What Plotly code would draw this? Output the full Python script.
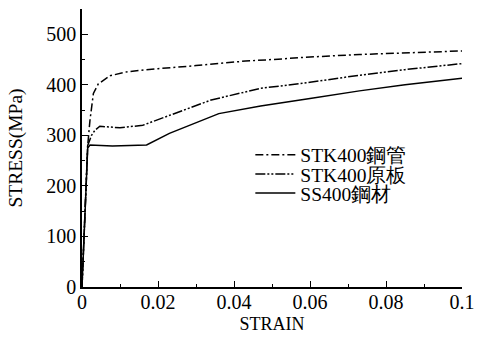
import plotly.graph_objects as go

names = ["STK400鋼管", "STK400原板", "SS400鋼材"]
strain_tube = [0, 0.0008, 0.0015, 0.0021, 0.003, 0.0043, 0.0074, 0.012, 0.02, 0.03, 0.043, 0.05, 0.06, 0.073, 0.08, 0.09, 0.1]
stress_tube = [0, 150, 280, 330, 383, 402, 418, 426, 432, 438, 447, 450, 455, 460, 462, 465, 467]
strain_plate = [0, 0.0008, 0.0015, 0.0025, 0.0034, 0.0047, 0.01, 0.016, 0.023, 0.034, 0.047, 0.06, 0.073, 0.085, 0.1]
stress_plate = [0, 150, 280, 300, 310, 318, 315, 320, 340, 370, 393, 405, 419, 430, 442]
strain_ss = [0, 0.0008, 0.0015, 0.0021, 0.008, 0.017, 0.023, 0.036, 0.047, 0.06, 0.073, 0.085, 0.1]
stress_ss = [0, 150, 275, 281, 279, 281, 304, 343, 358, 373, 388, 400, 413]

FONT = "Liberation Serif"

fig = go.Figure()
fig.add_trace(go.Scatter(x=strain_tube, y=stress_tube, mode="lines", name=names[0], legend="legend",
                         line=dict(color="black", width=1.5, dash="8px,3px,2px,3px")))
fig.add_trace(go.Scatter(x=strain_plate, y=stress_plate, mode="lines", name=names[1], legend="legend2",
                         line=dict(color="black", width=1.5, dash="10px,2px,2px,2px,2px,2px")))
fig.add_trace(go.Scatter(x=strain_ss, y=stress_ss, mode="lines", name=names[2], legend="legend3",
                         line=dict(color="black", width=1.5)))

def leg(yv):
    return dict(x=0.443, y=yv, xanchor="left", yanchor="middle",
                bgcolor="rgba(0,0,0,0)", font=dict(size=19.5, family=FONT),
                itemwidth=40)

fig.update_layout(
    width=477, height=338,
    margin=dict(l=82, r=15, t=9, b=51),
    paper_bgcolor="white", plot_bgcolor="white",
    font=dict(family=FONT, color="black", size=16),
    legend=leg(0.475), legend2=leg(0.405), legend3=leg(0.337),
    showlegend=True,
)
fig.update_xaxes(
    range=[0, 0.1], tickvals=[0, 0.02, 0.04, 0.06, 0.08, 0.1],
    ticktext=["0", "0.02", "0.04", "0.06", "0.08", "0.1"],
    ticks="inside", ticklen=6, tickcolor="black", showline=True, linecolor="black",
    linewidth=1.5, showgrid=False, zeroline=False, automargin=False,
    ticklabelstandoff=-4,
    minor=dict(ticks="inside", dtick=0.01, ticklen=3, tickcolor="black"),
    title=dict(text="STRAIN", standoff=6, font=dict(size=18, family=FONT)),
    tickfont=dict(size=20, family=FONT),
)
fig.update_yaxes(
    range=[0, 550], tickvals=[0, 100, 200, 300, 400, 500],
    ticks="inside", ticklen=6, tickcolor="black", showline=True, linecolor="black",
    linewidth=1.5, showgrid=False, zeroline=False, automargin=False,
    minor=dict(ticks="inside", dtick=50, ticklen=3, tickcolor="black"),
    title=dict(text="STRESS(MPa)", standoff=18, font=dict(size=19.5, family=FONT)),
    tickfont=dict(size=20, family=FONT),
)

fig.write_html("out.html", config={"displayModeBar": False},
               post_script="document.body.style.margin='0';")
